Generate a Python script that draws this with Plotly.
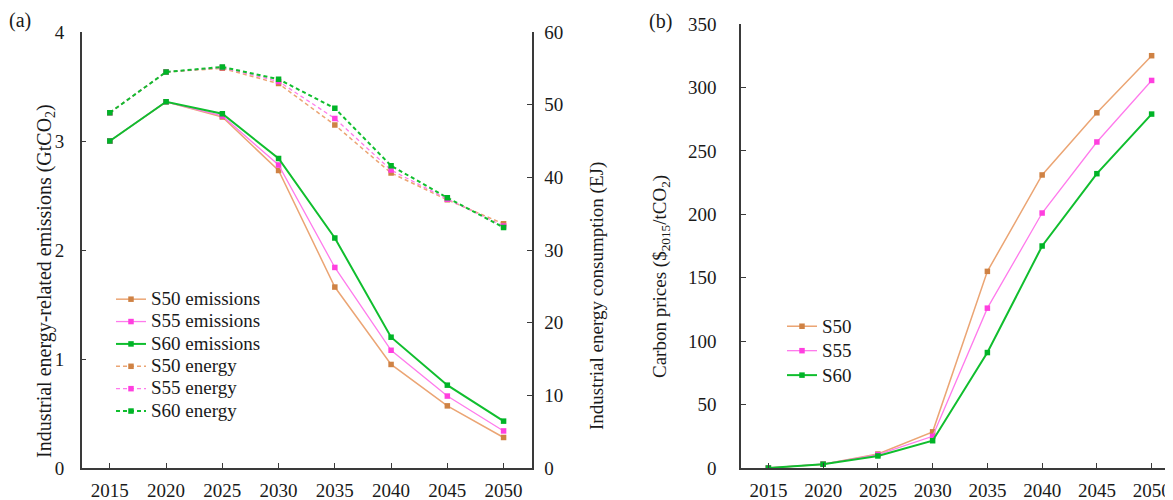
import plotly.graph_objects as go

years = ['2015', '2020', '2025', '2030', '2035', '2040', '2045', '2050']

# Panel (a): industrial energy-related emissions (GtCO2)
em_s50 = [3.00, 3.36, 3.22, 2.73, 1.66, 0.95, 0.57, 0.28]
em_s55 = [3.00, 3.36, 3.23, 2.78, 1.84, 1.08, 0.66, 0.34]
em_s60 = [3.00, 3.36, 3.25, 2.84, 2.11, 1.20, 0.76, 0.43]

# Panel (a): industrial energy consumption (EJ)
en_s50 = [48.9, 54.5, 55.0, 52.9, 47.2, 40.6, 36.9, 33.6]
en_s55 = [48.9, 54.5, 55.1, 53.2, 48.1, 41.0, 37.0, 33.3]
en_s60 = [48.9, 54.5, 55.2, 53.5, 49.5, 41.6, 37.2, 33.1]

# Panel (b): carbon prices ($2015/tCO2)
cp_s50 = [0, 3, 11, 28.5, 155, 231, 280, 325]
cp_s55 = [0, 3, 10.5, 25, 126, 201, 257, 305.5]
cp_s60 = [0, 3, 9.5, 21.5, 91, 175, 232, 279]

C50_LINE, C50_MK = '#EBA574', '#CF8244'
C55_LINE, C55_MK = '#FF7AEC', '#FF3FDF'
C60_LINE, C60_MK = '#10BE2E', '#00B427'

FONT = 'Liberation Serif, Times New Roman, serif'
AX = '#3a3a3a'
TXT = '#1a1a1a'
OFF = 8  # page body margin
W, H = 1173 - OFF, 500 - OFF


def px(xp):
    return (xp - OFF) / W


def py(yp):
    return 1 - (yp - OFF) / H


fig = go.Figure()


def add(x, y, name, lc, mc, lw, dash, xa, ya, legend, lsize):
    fig.add_trace(go.Scatter(
        x=x, y=y, mode='lines+markers',
        name='<span style="font-size:%dpx">%s</span>' % (lsize, name),
        line=dict(color=lc, width=lw, dash=dash),
        marker=dict(symbol='square', size=5.5, color=mc),
        xaxis=xa, yaxis=ya, legend=legend))


add(years, em_s50, 'S50 emissions', C50_LINE, C50_MK, 1.5, 'solid', 'x', 'y', 'legend', 19)
add(years, em_s55, 'S55 emissions', C55_LINE, C55_MK, 1.3, 'solid', 'x', 'y', 'legend', 19)
add(years, em_s60, 'S60 emissions', C60_LINE, C60_MK, 2.0, 'solid', 'x', 'y', 'legend', 19)
add(years, en_s50, 'S50 energy', C50_LINE, C50_MK, 1.5, '4px,3px', 'x', 'y2', 'legend', 19)
add(years, en_s55, 'S55 energy', C55_LINE, C55_MK, 1.3, '4px,3px', 'x', 'y2', 'legend', 19)
add(years, en_s60, 'S60 energy', C60_LINE, C60_MK, 2.0, '4px,3px', 'x', 'y2', 'legend', 19)

add(years, cp_s50, 'S50', C50_LINE, C50_MK, 1.5, 'solid', 'x2', 'y3', 'legend2', 19)
add(years, cp_s55, 'S55', C55_LINE, C55_MK, 1.3, 'solid', 'x2', 'y3', 'legend2', 19)
add(years, cp_s60, 'S60', C60_LINE, C60_MK, 2.0, 'solid', 'x2', 'y3', 'legend2', 19)

tickfont = dict(family=FONT, size=19, color=TXT)
common = dict(showgrid=False, zeroline=False, showline=True, linecolor=AX, linewidth=1.5,
              ticks='inside', ticklen=5, tickwidth=1.2, tickcolor=AX, tickfont=tickfont,
              automargin=False)

xa_dom = [px(81.7), px(531.7)]
xb_dom = [px(741), 1.0]
ya_dom = [py(468), py(32)]
yb_dom = [py(468), py(24)]
cat_w_b = 54.75
xb_max = -0.5 + (1173 - 741) / cat_w_b

fig.update_layout(
    width=W, height=H,
    margin=dict(l=0, r=0, t=0, b=0, autoexpand=False),
    paper_bgcolor='white', plot_bgcolor='white',
    font=dict(family=FONT, color=TXT),
    xaxis=dict(domain=xa_dom, type='category', range=[-0.5, 7.5], anchor='y',
               ticklabelstandoff=4, **common),
    yaxis=dict(domain=ya_dom, range=[0, 4], dtick=1, anchor='x',
               ticklabelstandoff=12, **common),
    yaxis2=dict(domain=ya_dom, range=[0, 60], dtick=10, overlaying='y', side='right',
                anchor='x', ticklabelstandoff=7, **common),
    xaxis2=dict(domain=xb_dom, type='category', range=[-0.5, xb_max], anchor='y3',
                ticklabelstandoff=4, **common),
    yaxis3=dict(domain=yb_dom, range=[0, 350], dtick=50, anchor='x2',
                ticklabelstandoff=19, **common),
    legend=dict(x=px(111), y=py(283), xanchor='left', yanchor='top',
                bgcolor='rgba(0,0,0,0)', font=dict(family=FONT, size=14.9, color=TXT),
                itemwidth=30, tracegroupgap=0),
    legend2=dict(x=px(782), y=py(309), xanchor='left', yanchor='top',
                 bgcolor='rgba(0,0,0,0)', font=dict(family=FONT, size=16.5, color=TXT),
                 itemwidth=30),
    showlegend=True,
)

ttl = dict(family=FONT, size=19, color=TXT)
fig.add_annotation(x=px(45), y=py(281), xref='paper', yref='paper', textangle=-90,
                   text='Industrial energy-related emissions (GtCO<sub>2</sub>)',
                   showarrow=False, font=dict(family=FONT, size=20, color=TXT),
                   xanchor='center', yanchor='middle')
fig.add_annotation(x=px(597), y=py(296), xref='paper', yref='paper', textangle=-90,
                   text='Industrial energy consumption (EJ)',
                   showarrow=False, font=ttl, xanchor='center', yanchor='middle')
fig.add_annotation(x=px(661), y=py(277), xref='paper', yref='paper', textangle=-90,
                   text='Carbon prices ($<sub>2015</sub>/tCO<sub>2</sub>)',
                   showarrow=False, font=ttl, xanchor='center', yanchor='middle')
fig.add_annotation(x=px(20), y=py(20), xref='paper', yref='paper', text='(a)',
                   showarrow=False, font=dict(family=FONT, size=20, color=TXT),
                   xanchor='center', yanchor='middle')
fig.add_annotation(x=px(660), y=py(22), xref='paper', yref='paper', text='(b)',
                   showarrow=False, font=dict(family=FONT, size=20, color=TXT),
                   xanchor='center', yanchor='middle')

fig.write_html('out.html')
